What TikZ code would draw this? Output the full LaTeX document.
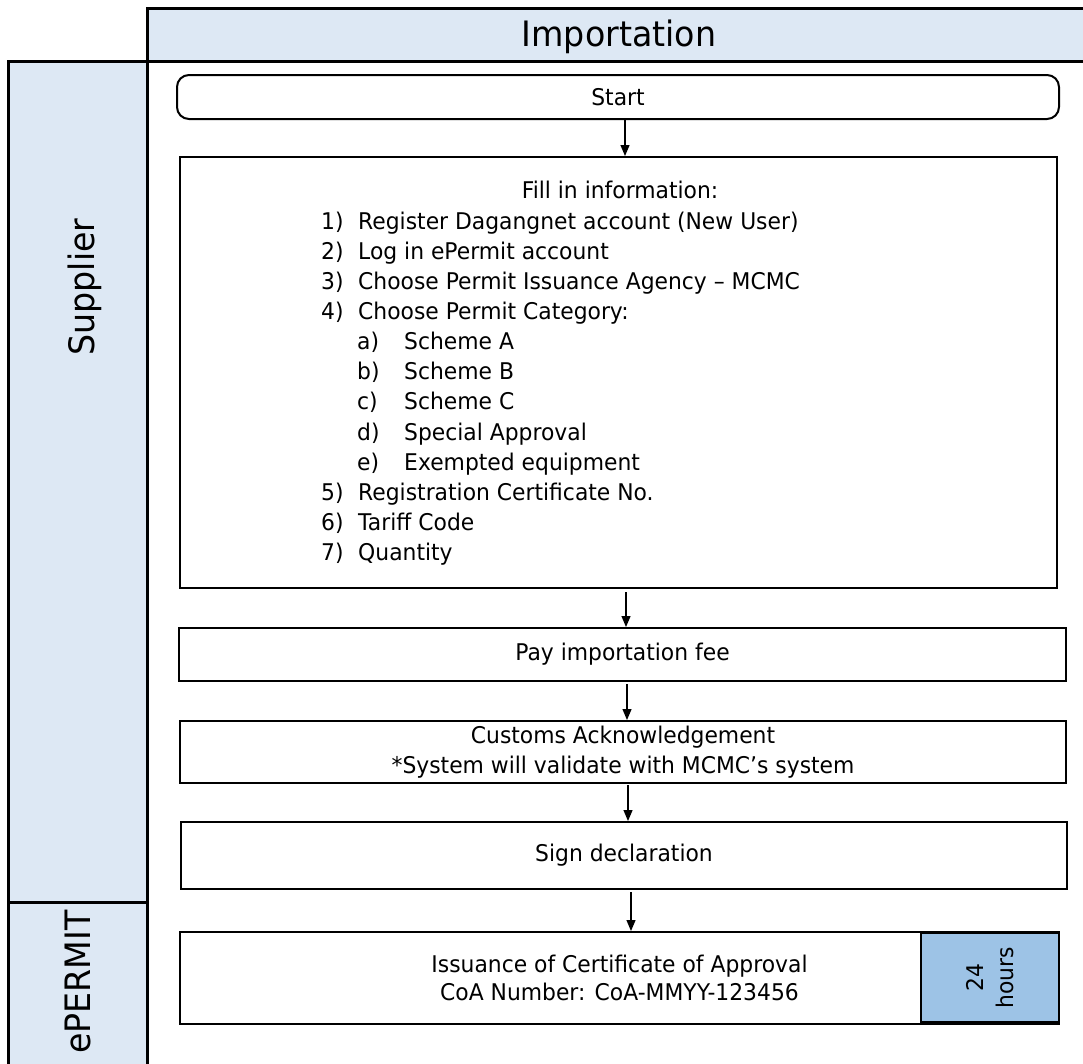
\documentclass[tikz,border=0pt]{standalone}
\usepackage{fontspec}
\setmainfont{DejaVu Sans}[FakeStretch=0.95]
\usetikzlibrary{arrows.meta}
\definecolor{lanefill}{HTML}{DDE8F4}
\definecolor{hourfill}{HTML}{9DC3E6}
\begin{document}
\begin{tikzpicture}[x=1pt,y=-1pt,
  lane/.style={draw=black,line width=3pt,fill=lanefill},
  stepbox/.style={draw=black,line width=2pt,fill=white,inner sep=0pt,align=center,
    font=\fontsize{23}{30}\selectfont},
  flow/.style={draw=black,line width=1.2pt,-{Triangle[length=11pt,width=9pt]}},
  body/.style={font=\fontsize{23}{30}\selectfont,inner sep=0pt},
  lanelabel/.style={font=\fontsize{35}{40}\selectfont,inner sep=0pt}]
\useasboundingbox (0,0) rectangle (1083,1063);
\fill[white] (0,0) rectangle (1083,1063);
% lanes
\path[lane] (147,8) rectangle (1095,61);
\path[lane] (8,61) rectangle (147,1080);
\draw[line width=3pt] (8,902) -- (147,902);
\node[lanelabel,anchor=base] (title) at (619,46) {Importation};
\node[lanelabel,rotate=90,anchor=base] (supplier) at (94,287) {Supplier};
\node[lanelabel,rotate=90,anchor=base] (epermit) at (90,982) {ePERMIT};
% boxes
\node[stepbox,rounded corners=12pt,minimum width=882pt,minimum height=44pt] (start) at (618,97) {Start};
\node[stepbox,minimum width=877pt,minimum height=431pt] (fill) at (618.5,372.5) {};
\node[stepbox,minimum width=887pt,minimum height=53pt] (pay) at (622.5,654.5) {Pay importation fee};
\node[stepbox,minimum width=886pt,minimum height=62pt] (customs) at (623,752) {Customs Acknowledgement\\*System will validate with MCMC’s system};
\node[stepbox,minimum width=886pt,minimum height=67pt] (sign) at (624,855.5) {Sign declaration};
\node[stepbox,minimum width=879pt,minimum height=92pt,font=\fontsize{23}{28}\selectfont] (issue) at (619.5,978) {Issuance of Certificate of Approval\\CoA Number: CoA-MMYY-123456};
\node[draw=black,line width=1.6pt,fill=hourfill,minimum width=138pt,minimum height=89pt,inner sep=0pt] (hoursbox) at (990,977.5) {};
\node[body,rotate=90,align=center] (hours) at (hoursbox.center) {24\\hours};
% fill-in text
\node[body,anchor=base] (fillhead) at (620,198) {Fill in information:};
\node[body,anchor=base west] (n1) at (321,229) {1)};
\node[body,anchor=base west] (t1) at (358,229) {Register Dagangnet account (New User)};
\node[body,anchor=base west] (n2) at (321,259.15) {2)};
\node[body,anchor=base west] (t2) at (358,259.15) {Log in ePermit account};
\node[body,anchor=base west] (n3) at (321,289.3) {3)};
\node[body,anchor=base west] (t3) at (358,289.3) {Choose Permit Issuance Agency – MCMC};
\node[body,anchor=base west] (n4) at (321,319.45) {4)};
\node[body,anchor=base west] (t4) at (358,319.45) {Choose Permit Category:};
\node[body,anchor=base west] (sa) at (357,349.6) {a)};
\node[body,anchor=base west] (ta) at (404,349.6) {Scheme A};
\node[body,anchor=base west] (sb) at (357,379.75) {b)};
\node[body,anchor=base west] (tb) at (404,379.75) {Scheme B};
\node[body,anchor=base west] (sc) at (357,409.9) {c)};
\node[body,anchor=base west] (tc) at (404,409.9) {Scheme C};
\node[body,anchor=base west] (sd) at (357,440.05) {d)};
\node[body,anchor=base west] (td) at (404,440.05) {Special Approval};
\node[body,anchor=base west] (se) at (357,470.2) {e)};
\node[body,anchor=base west] (te) at (404,470.2) {Exempted equipment};
\node[body,anchor=base west] (n5) at (321,500.35) {5)};
\node[body,anchor=base west] (t5) at (358,500.35) {Registration Certificate No.};
\node[body,anchor=base west] (n6) at (321,530.5) {6)};
\node[body,anchor=base west] (t6) at (358,530.5) {Tariff Code};
\node[body,anchor=base west] (n7) at (321,560.65) {7)};
\node[body,anchor=base west] (t7) at (358,560.65) {Quantity};
% arrows
\draw[flow] ([xshift=7pt]start.south) -- ([xshift=7pt]start.south |- fill.north);
\draw[flow,shorten <=3pt] ([xshift=7.5pt]fill.south) -- ([xshift=7.5pt]fill.south |- pay.north);
\draw[flow,shorten <=2pt] ([xshift=4.5pt]pay.south) -- ([xshift=4.5pt]pay.south |- customs.north);
\draw[flow,shorten <=1pt] ([xshift=5pt]customs.south) -- ([xshift=5pt]customs.south |- sign.north);
\draw[flow,shorten <=2pt] ([xshift=7pt]sign.south) -- ([xshift=7pt]sign.south |- issue.north);
\end{tikzpicture}
\end{document}
